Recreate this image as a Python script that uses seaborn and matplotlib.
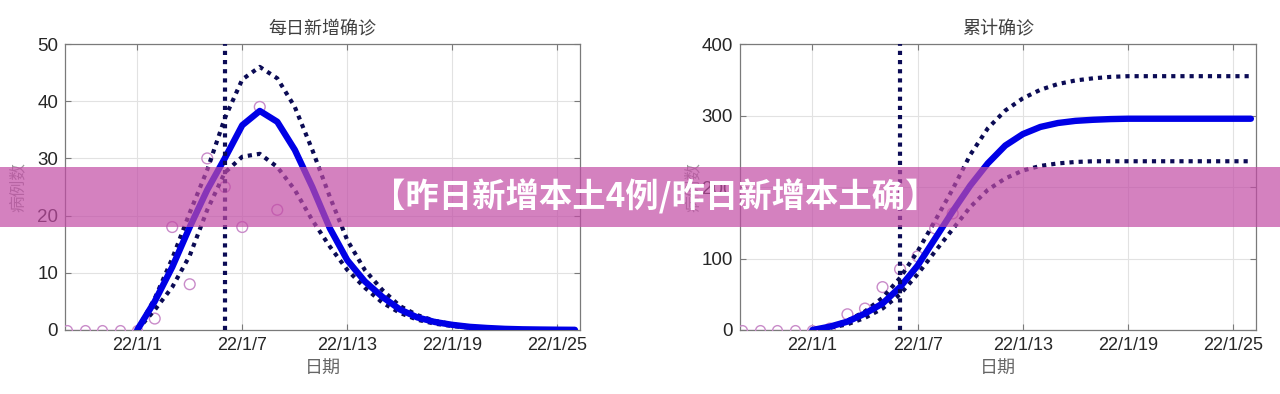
import matplotlib
matplotlib.use("Agg")
import numpy as np
import pandas as pd
import seaborn as sns
import matplotlib.pyplot as plt
import matplotlib.dates as mdates
from matplotlib.patches import Rectangle

# ---------------- data ----------------
hist_dates = ["2021-12-28", "2021-12-29", "2021-12-30", "2021-12-31", "2022-01-01"]
hist_daily = [0, 0, 0, 0, 0]
hist_cum = [0, 0, 0, 0, 0]

obs_dates = ["2022-01-02", "2022-01-03", "2022-01-04", "2022-01-05",
             "2022-01-06", "2022-01-07", "2022-01-08", "2022-01-09"]
obs_daily = [2, 18, 8, 30, 25, 18, 39, 21]
obs_cum = [2, 22, 30, 60, 85, 103, 142, 163]

model_dates = [f"2022-01-{d:02d}" for d in range(1, 27)]
daily_fit = [0, 5, 11, 18, 24.5, 30, 35.8, 38.3, 36.4, 31.5, 25, 17.8, 12.2,
             8.5, 5.8, 3.6, 2.2, 1.4, 0.9, 0.55, 0.35, 0.2, 0.12, 0.08, 0.05, 0.03]
daily_hi = [0, 5.5, 12.5, 20.5, 28, 37, 43.8, 46, 44, 39, 31.5, 23.3, 15.7,
            10.5, 7, 4.2, 2.6, 1.6, 1.0, 0.6, 0.4, 0.25, 0.15, 0.1, 0.06, 0.04]
daily_lo = [0, 3.5, 7.5, 13, 21, 27.5, 30.3, 30.8, 28.5, 24.5, 19.2, 14.6, 10.5,
            7.4, 4.8, 3.0, 1.8, 1.1, 0.7, 0.4, 0.25, 0.15, 0.1, 0.06, 0.04, 0.02]
cum_fit = [0, 4.7, 11.7, 23, 37, 60, 90, 128, 166, 202, 233, 258, 274,
           284, 289.5, 292.5, 294, 295, 295.5, 295.5, 295.5, 295.5, 295.5, 295.5, 295.5, 295.5]
cum_hi = [0, 5, 13, 26, 45, 73, 110, 153, 197, 245, 282, 307, 324,
          336, 344, 349, 352, 354, 355, 355, 355, 355, 355, 355, 355, 355]
cum_lo = [0, 3, 8, 17, 30, 50, 78, 110, 141, 172, 196, 212, 223,
          229.5, 233, 235, 236, 236, 236, 236, 236, 236, 236, 236, 236, 236]

cut_date = "2022-01-06"
tick_dates = ["2022-01-01", "2022-01-07", "2022-01-13", "2022-01-19", "2022-01-25"]

titles = ["每日新增确诊", "累计确诊"]
xlabel = "日期"
ylabel = "病例数"
banner_text = "【昨日新增本土4例/昨日新增本土确】"

# ---------------- frames ----------------
hist = pd.DataFrame({"date": pd.to_datetime(hist_dates), "daily": hist_daily, "cum": hist_cum})
obs = pd.DataFrame({"date": pd.to_datetime(obs_dates), "daily": obs_daily, "cum": obs_cum})
model = pd.DataFrame({"date": pd.to_datetime(model_dates),
                      "daily_fit": daily_fit, "daily_hi": daily_hi, "daily_lo": daily_lo,
                      "cum_fit": cum_fit, "cum_hi": cum_hi, "cum_lo": cum_lo})

# ---------------- style ----------------
sns.set_theme(style="whitegrid")
plt.rcParams["font.family"] = ["Liberation Sans", "Noto Sans CJK SC", "DejaVu Sans"]

fig = plt.figure(figsize=(12.8, 3.94), dpi=100)
fig.patch.set_facecolor("white")

W, H = 1280, 394
axes_px = [(65, 580), (740, 1256)]
top_px, bot_px = 44, 330

BLUE = "#0000e6"
NAVY = "#0b0b55"
PINK = "#c98bc9"
dot_style = (0, (1, 1.2))

xmin = pd.Timestamp("2021-12-27 21:00")
xmax = pd.Timestamp("2022-01-26 07:00")

panels = [
    ("daily", "daily_fit", "daily_hi", "daily_lo", (0, 50), [0, 10, 20, 30, 40, 50]),
    ("cum", "cum_fit", "cum_hi", "cum_lo", (0, 400), [0, 100, 200, 300, 400]),
]

for i, (obs_col, fit_col, hi_col, lo_col, ylim, yticks) in enumerate(panels):
    x0, x1 = axes_px[i]
    ax = fig.add_axes([x0 / W, (H - bot_px) / H, (x1 - x0) / W, (bot_px - top_px) / H])
    ax.set_facecolor("white")

    # history zeros (line + markers)
    sns.lineplot(data=hist, x="date", y=obs_col, ax=ax, color="#e3a9e3", lw=1.0,
                 marker="o", markersize=7, markerfacecolor="none",
                 markeredgecolor=PINK, markeredgewidth=1.0, zorder=3)
    # observed points
    sns.scatterplot(data=obs, x="date", y=obs_col, ax=ax, s=60, facecolor="none",
                    edgecolor=PINK, linewidth=1.0, zorder=3)
    # confidence bounds
    sns.lineplot(data=model, x="date", y=hi_col, ax=ax, color=NAVY, lw=3.0,
                 linestyle=dot_style, zorder=4)
    sns.lineplot(data=model, x="date", y=lo_col, ax=ax, color=NAVY, lw=3.0,
                 linestyle=dot_style, zorder=4)
    # fitted curve
    sns.lineplot(data=model, x="date", y=fit_col, ax=ax, color=BLUE, lw=4.6,
                 zorder=5, solid_capstyle="round", solid_joinstyle="round")
    # cut-off line
    ax.axvline(pd.Timestamp(cut_date), color=NAVY, lw=3.0, linestyle=dot_style, zorder=6)

    ax.set_xlim(xmin, xmax)
    ax.set_ylim(*ylim)
    ax.set_yticks(yticks)
    ax.set_xticks(pd.to_datetime(tick_dates))
    ax.set_xticklabels([f"22/1/{pd.Timestamp(d).day}" for d in tick_dates])

    ax.grid(True, color="#e2e2e2", lw=0.8)
    for s in ax.spines.values():
        s.set_visible(True)
        s.set_color("#7a7a7a")
        s.set_linewidth(0.9)
    ax.tick_params(axis="both", direction="in", length=4, width=0.8, color="#7a7a7a",
                   top=True, right=True, bottom=True, left=True,
                   labelcolor="#262626", pad=5)
    ax.tick_params(axis="y", labelsize=13.5)
    ax.tick_params(axis="x", labelsize=13)

    ax.set_title(titles[i], fontsize=13, color="#404040", pad=7,
                 family=["Noto Sans CJK SC", "DejaVu Sans"])
    ax.set_xlabel(xlabel, fontsize=13, color="#666666", labelpad=4,
                  family=["Noto Sans CJK SC", "DejaVu Sans"])
    ax.set_ylabel(ylabel, fontsize=12, color="#9a9a9a",
                  family=["Noto Sans CJK SC", "DejaVu Sans"])
    ax.yaxis.set_label_coords(-0.075, 0.5)

# ---------------- banner overlay ----------------
band_top, band_bot = 167, 227
fig.add_artist(Rectangle((0, (H - band_bot) / H), 1, (band_bot - band_top) / H,
                         transform=fig.transFigure, facecolor=(194 / 255, 76 / 255, 165 / 255),
                         alpha=0.7, edgecolor="none", zorder=10))
fig.text(655 / W, (H - 197) / H, banner_text, ha="center", va="center",
         fontsize=24, fontweight="bold", color="white", zorder=11,
         family=["Noto Sans CJK SC", "DejaVu Sans"])

fig.savefig("out.png", dpi=100, facecolor="white")
